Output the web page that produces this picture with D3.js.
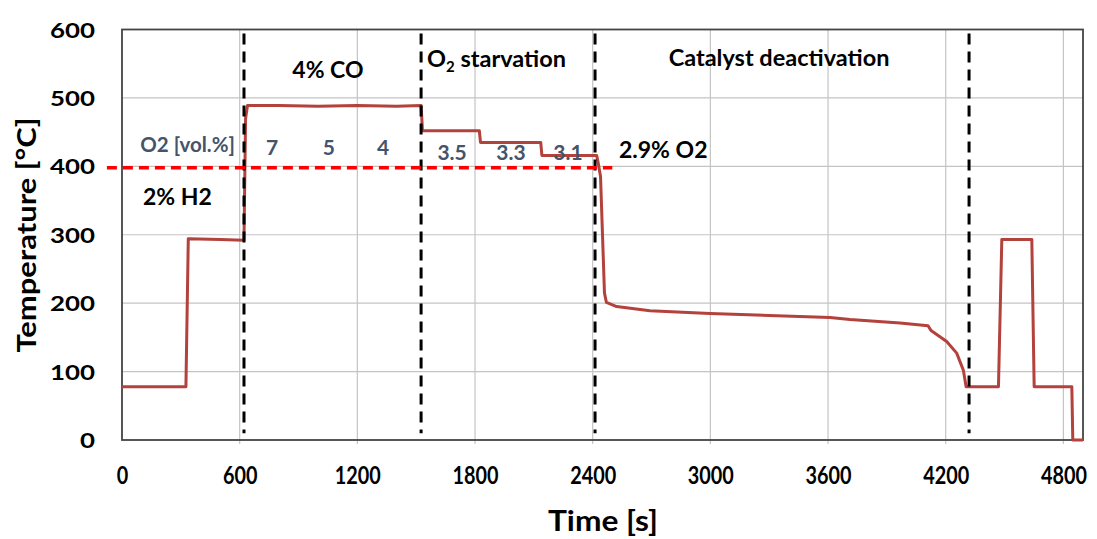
<!DOCTYPE html>
<html>
<head>
<meta charset="utf-8">
<script src="https://cdn.jsdelivr.net/npm/d3@7"></script>
<style>
  body { margin: 0; background: #fff; }
  text { font-family: Lato, "Open Sans", sans-serif; font-weight: bold; }
</style>
</head>
<body>
<div id="chart"></div>
<script>
// measured temperature trace (time in s, temperature in °C)
const timeS = [0, 326, 338, 500, 622, 630, 640, 800, 1000, 1200, 1400, 1525, 1532, 1822, 1828, 2135, 2141,
  2420, 2428, 2440, 2450, 2460, 2470, 2522, 2692, 2998, 3300, 3610, 3712, 3967, 4110, 4125, 4205, 4256,
  4290, 4304, 4469, 4486, 4639, 4651, 4843, 4848, 4900];
const tempC = [78, 78, 294, 293, 292, 470, 489, 489, 488, 489, 488, 489, 452, 452, 435, 435, 416,
  416, 405, 385, 300, 215, 201, 195, 189, 185, 182, 179, 176, 171, 167, 160, 144, 127,
  102, 78, 78, 293, 293, 78, 78, 0, 0];

// phase boundaries (dashed black) and the 400 °C reference (dashed red)
const phaseTimes = [622, 1525, 2412, 4319];
const refTemp = 398;
const refSpan = [-77, 2500];

// O2 content per step [vol.%]
const o2Steps = ["7", "5", "4", "3.5", "3.3", "3.1"];
const o2StepTimes = [765, 1055, 1331, 1683, 1983, 2274];
const o2StepTemps = [417, 417, 417, 409, 409, 409];

const xTicks = [0, 600, 1200, 1800, 2400, 3000, 3600, 4200, 4800];
const yTicks = [0, 100, 200, 300, 400, 500, 600];

// text annotations: label, time, temperature, anchor
const notes = [
  { label: "4% CO", t: 1050, v: 529, anchor: "middle", color: "#000", size: 23 },
  { label: "Catalyst deactivation", t: 3350, v: 546, anchor: "middle", color: "#000", size: 23.5 },
  { label: "O2 [vol.%]", t: 576, v: 421, anchor: "end", color: "#44546a", size: 20.5 },
  { label: "2.9% O2", t: 2534, v: 412, anchor: "start", color: "#000", size: 23 },
  { label: "2% H2", t: 107, v: 343, anchor: "start", color: "#000", size: 23 }
];

const width = 1097;
const height = 539;

const x = d3.scaleLinear().domain([0, 4900]).range([122, 1083]);
const y = d3.scaleLinear().domain([0, 600]).range([440, 29.5]);

const svg = d3.select("#chart").append("svg")
  .attr("width", width)
  .attr("height", height);

// grid
svg.append("g")
  .selectAll("line.vgrid")
  .data(xTicks.filter(d => d > 0))
  .join("line")
  .attr("x1", d => x(d)).attr("x2", d => x(d))
  .attr("y1", y(600)).attr("y2", y(0) + 4)
  .attr("stroke", "#c4c4c4").attr("stroke-width", 1.2);

svg.append("g")
  .selectAll("line.hgrid")
  .data(yTicks.filter(d => d > 0))
  .join("line")
  .attr("x1", x(0)).attr("x2", x(4900))
  .attr("y1", d => y(d)).attr("y2", d => y(d))
  .attr("stroke", "#c4c4c4").attr("stroke-width", 1.2);

// plot frame
svg.append("rect")
  .attr("x", x(0)).attr("y", y(600))
  .attr("width", x(4900) - x(0)).attr("height", y(0) - y(600))
  .attr("fill", "none").attr("stroke", "#444").attr("stroke-width", 1.8);

// axes (labels are stretched sideways like in the source figure)
const xAxis = svg.append("g")
  .attr("transform", `translate(0,${y(0)})`)
  .call(d3.axisBottom(x).tickValues(xTicks).tickFormat(d3.format("d")).tickSize(0).tickPadding(27));
xAxis.select(".domain").remove();
xAxis.selectAll("text")
  .attr("font-size", 24).attr("fill", "#000")
  .attr("font-family", "Lato, sans-serif")
  .attr("font-weight", 900)
  .attr("textLength", d => String(d).length * 11.5)
  .attr("lengthAdjust", "spacingAndGlyphs");

const yAxis = svg.append("g")
  .attr("transform", `translate(${x(0)},0)`)
  .call(d3.axisLeft(y).tickValues(yTicks).tickFormat(d3.format("d")).tickSize(0).tickPadding(27));
yAxis.select(".domain").remove();
yAxis.selectAll("text")
  .attr("font-size", 21).attr("fill", "#000")
  .attr("font-family", "Lato, sans-serif")
  .attr("font-weight", 900)
  .attr("dy", "0.36em")
  .attr("textLength", d => String(d).length * 15)
  .attr("lengthAdjust", "spacingAndGlyphs");

svg.append("text")
  .attr("x", 603).attr("y", 531)
  .attr("text-anchor", "middle")
  .attr("font-size", 29)
  .attr("textLength", 110)
  .attr("lengthAdjust", "spacingAndGlyphs")
  .text("Time [s]");

svg.append("text")
  .attr("transform", "translate(36,235) rotate(-90)")
  .attr("text-anchor", "middle")
  .attr("font-size", 27)
  .attr("textLength", 235)
  .attr("lengthAdjust", "spacingAndGlyphs")
  .text("Temperature [°C]");

// temperature trace
const points = timeS.map((t, i) => [t, tempC[i]]);
svg.append("path")
  .datum(points)
  .attr("fill", "none")
  .attr("stroke", "#b3413c")
  .attr("stroke-width", 3)
  .attr("stroke-linejoin", "round")
  .attr("d", d3.line().x(d => x(d[0])).y(d => y(d[1])));

// phase boundaries
svg.append("g")
  .selectAll("line")
  .data(phaseTimes)
  .join("line")
  .attr("x1", d => x(d)).attr("x2", d => x(d))
  .attr("y1", y(600) + 4).attr("y2", y(10))
  .attr("stroke", "#000").attr("stroke-width", 3)
  .attr("stroke-dasharray", "11,7");

// reference line
svg.append("line")
  .attr("x1", x(refSpan[0])).attr("x2", x(refSpan[1]))
  .attr("y1", y(refTemp)).attr("y2", y(refTemp))
  .attr("stroke", "#ff0000").attr("stroke-width", 3.5)
  .attr("stroke-dasharray", "10,6");

// O2 step labels
svg.append("g")
  .selectAll("text")
  .data(o2Steps)
  .join("text")
  .attr("x", (d, i) => x(o2StepTimes[i]))
  .attr("y", (d, i) => y(o2StepTemps[i]))
  .attr("text-anchor", "middle")
  .attr("font-size", 21)
  .attr("fill", "#44546a")
  .text(d => d);

// annotations
svg.append("g")
  .selectAll("text")
  .data(notes)
  .join("text")
  .attr("x", d => x(d.t))
  .attr("y", d => y(d.v))
  .attr("text-anchor", d => d.anchor)
  .attr("font-size", d => d.size)
  .attr("fill", d => d.color)
  .text(d => d.label);

// "O2 starvation" with subscript
const starv = svg.append("text")
  .attr("x", x(1555)).attr("y", y(545))
  .attr("font-size", 23.5);
starv.append("tspan").text("O");
starv.append("tspan").attr("font-size", 15).attr("dy", 5).text("2");
starv.append("tspan").attr("dy", -5).text(" starvation");
</script>
</body>
</html>
